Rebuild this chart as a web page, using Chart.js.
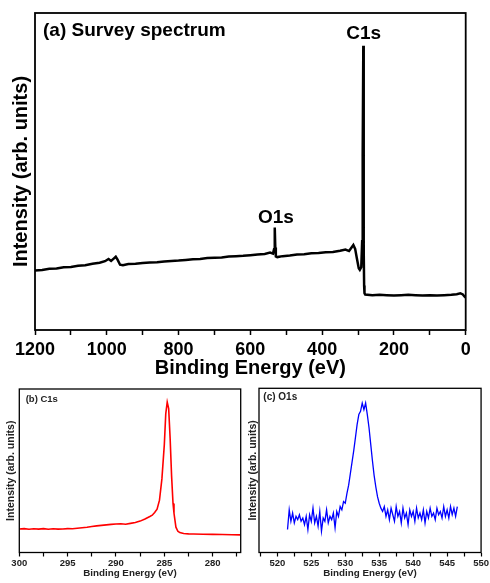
<!DOCTYPE html>
<html><head><meta charset="utf-8">
<script src="https://cdn.jsdelivr.net/npm/chart.js@4/dist/chart.umd.min.js"></script>
<style>
html,body{margin:0;padding:0;background:#fff;width:490px;height:583px;overflow:hidden;}
canvas{position:absolute;}
</style></head><body>
<canvas id="ca" width="490" height="383" style="left:0;top:0"></canvas>
<canvas id="cb" width="248" height="205" style="left:0;top:378px"></canvas>
<canvas id="cc" width="244" height="205" style="left:246px;top:378px"></canvas>
<script>
// ---- Panel (a): survey spectrum ----
const surveyEnergy = [1200,1180,1160,1140,1120,1100,1080,1060,1040,1020,1005,995,988,980,975,970,963,955,940,920,900,880,860,840,820,800,780,760,740,720,700,680,660,640,620,600,580,560,545,537,534,532.5,531.5,530.5,529,525,510,490,470,450,430,410,390,370,350,335,325,318,313,308,303,298,295,291,288.5,287,285.3,284.6,284.2,283.6,283,282,280,260,240,220,200,180,160,140,120,100,80,60,40,25,15,8,3,0];
const surveyIntensity = [18.8,18.9,19.3,19.4,19.8,19.9,20.3,20.4,20.9,21.2,21.7,22.4,21.8,22.6,23.1,22.2,20.6,20.4,20.8,20.9,21.1,21.3,21.4,21.6,21.8,21.9,22.1,22.3,22.4,22.7,22.8,22.9,23.2,23.3,23.4,23.6,23.8,24.0,24.4,24.1,25.5,30,32.3,26,23.2,23.0,23.3,23.5,23.8,23.9,24.2,24.3,24.5,24.6,25.0,25.4,24.9,26.0,26.8,25.6,22.5,19.5,19.0,19.8,28,55,89.7,75,46,25,14,11.6,11.2,11.0,11.1,11.0,10.9,11.0,11.1,11.0,10.9,11.0,10.9,11.0,11.1,11.3,11.6,11.2,10.5,10.2];
const surveyTickStep = 100;
const surveyLabelStep = 200;
const surveyPeakLabels = [{text:'C1s', x:284.2, y:93.3},{text:'O1s', x:529, y:35.3}];

// ---- Panel (b): C1s ----
const c1sEnergy = [300,299.5,299,298.5,298,297.5,297,296.5,296,295.5,295,294.5,294,293.5,293,292.5,292,291.5,291,290.5,290,289.5,289,288.5,288,287.5,287,286.75,286.5,286.25,286,285.75,285.5,285.25,285,284.85,284.7,284.55,284.4,284.25,284.1,284,283.8,283.6,283.4,283,282.5,282,281,280,279,278,277.15];
const c1sIntensity = [14.4,14.6,14.2,14.5,14.3,14.6,14.2,14.5,14.3,14.4,14.6,14.5,14.8,15.1,15.4,15.9,16.3,16.6,16.9,17.2,17.4,17.6,17.3,17.8,18.3,19.2,20.5,21.3,22.0,22.8,24.5,26.5,32,45,66,85,92,88,70,47,30,24,15.5,13,12.2,11.6,11.4,11.3,11.2,11.1,11.0,10.9,10.8];

// ---- Panel (c): O1s ----
const o1sEnergyStart = 521.5;
const o1sEnergyStep = 0.25;
const o1sIntensity = [14,26,19,24,18,22,20,23,19,21,17,22,14,23,19,27,18,22,16,25,13,21,19,26,18,22,20,24,15,25,22,28,26,31,30,36,41,48,55,62,70,78,84,86,91,87,91,84,76,66,56,47,40,34,30,27,25,28,22,26,20,27,23,19,28,22,25,18,27,21,24,17,26,22,25,19,27,21,24,20,26,18,25,21,27,22,24,20,27,23,25,21,28,22,26,21,28,23,27,22,28];

const FONT = "'Liberation Sans', Arial, sans-serif";
Chart.defaults.font.family = FONT;
Chart.defaults.animation = false;

const framePlugin = {
  id:'frame',
  afterDraw(chart, args, opts){
    const a = chart.chartArea, ctx = chart.ctx;
    ctx.save(); ctx.strokeStyle='#000'; ctx.lineWidth=opts.width||1;
    ctx.strokeRect(a.left, a.top, a.right-a.left, a.bottom-a.top); ctx.restore();
  }
};
const notesPlugin = {
  id:'notes',
  afterDraw(chart, args, opts){
    const ctx = chart.ctx;
    (opts.items||[]).forEach(it=>{
      let x, y;
      if (it.data) { x = chart.scales.x.getPixelForValue(it.x); y = chart.scales.y.getPixelForValue(it.y); }
      else { x = chart.chartArea.left + it.dx; y = chart.chartArea.top + it.dy; }
      ctx.save(); ctx.font = 'bold ' + it.size + 'px ' + FONT; ctx.fillStyle = it.color || '#000';
      ctx.textAlign = it.align || 'left'; ctx.textBaseline = 'middle'; ctx.fillText(it.text, x, y); ctx.restore();
    });
  }
};

function isMult(v, m){ return Math.abs(v/m - Math.round(v/m)) < 1e-6; }

function makeChart(id, cfg){
  const points = cfg.energy.map((e,i)=>({x:e, y:cfg.values[i]}));
  return new Chart(document.getElementById(id), {
    type:'line',
    data:{datasets:[{data:points, borderColor:cfg.color, borderWidth:cfg.lineWidth, pointRadius:0, tension:0, fill:false}]},
    plugins:[framePlugin, notesPlugin],
    options:{
      responsive:false, animation:false, events:[],
      layout:{padding:{top:cfg.padTop, right:cfg.padRight, left:0, bottom:0}},
      plugins:{legend:{display:false}, tooltip:{enabled:false},
        frame:{width:cfg.frameWidth}, notes:{items:cfg.notes}},
      scales:{
        x:{type:'linear', reverse:cfg.reverse, min:cfg.xmin, max:cfg.xmax,
          ticks:{stepSize:cfg.step, autoSkip:false, maxRotation:0, includeBounds:false, padding:cfg.tickPad,
            color:cfg.textColor, font:{size:cfg.tickSize, weight:'bold'},
            callback:v=> isMult(v, cfg.labelStep) ? String(Math.round(v)) : ''},
          grid:{display:true, drawOnChartArea:false, drawTicks:true, tickLength:cfg.tickLen, tickColor:'#000', tickWidth:cfg.tickWidth},
          border:{display:false},
          title:{display:true, text:'Binding Energy (eV)', color:cfg.textColor, font:{size:cfg.xTitleSize, weight:'bold'}, padding:{top:0, bottom:cfg.xTitlePad}},
          afterFit:s=>{ s.height = cfg.xHeight; }
        },
        y:{type:'linear', min:0, max:100,
          ticks:{display:false}, grid:{display:false}, border:{display:false},
          title:{display:true, text:'Intensity (arb. units)', color:cfg.textColor, font:{size:cfg.yTitleSize, weight:'bold'}, padding:{top:cfg.yTitlePad, bottom:0}},
          afterFit:s=>{ s.width = cfg.yWidth; }
        }
      }
    }
  });
}

makeChart('ca', {
  energy:surveyEnergy, values:surveyIntensity, color:'#000', lineWidth:2.5,
  reverse:true, xmin:0, xmax:1200, step:surveyTickStep, labelStep:surveyLabelStep,
  padTop:13, padRight:24.3, yWidth:35, xHeight:53,
  tickSize:18, tickPad:4, tickLen:5, tickWidth:1.5, textColor:'#000',
  xTitleSize:20, xTitlePad:3, yTitleSize:20, yTitlePad:9, frameWidth:1.8,
  notes:[{text:'(a) Survey spectrum', dx:8, dy:18, size:19},
    ...surveyPeakLabels.map(p=>({text:p.text, data:true, x:p.x, y:p.y, size:19, align:'center'}))]
});

makeChart('cb', {
  energy:c1sEnergy, values:c1sIntensity, color:'#ff0000', lineWidth:1.6,
  reverse:true, xmin:277.1, xmax:300, step:2.5, labelStep:5,
  padTop:11, padRight:7.3, yWidth:19.3, xHeight:30.5,
  tickSize:9.5, tickPad:1, tickLen:4, tickWidth:1.2, textColor:'#222',
  xTitleSize:9.8, xTitlePad:3.8, yTitleSize:10.5, yTitlePad:4.7, frameWidth:1.3,
  notes:[{text:'(b) C1s', dx:6.4, dy:10, size:9.5, color:'#222'}]
});

const o1sEnergy = o1sIntensity.map((_,i)=> o1sEnergyStart + i*o1sEnergyStep);
makeChart('cc', {
  energy:o1sEnergy, values:o1sIntensity, color:'#0000ff', lineWidth:1.3,
  reverse:false, xmin:517.3, xmax:550, step:2.5, labelStep:5,
  padTop:10.3, padRight:8.3, yWidth:13, xHeight:30.5,
  tickSize:9.5, tickPad:1, tickLen:4, tickWidth:1.2, textColor:'#222',
  xTitleSize:9.8, xTitlePad:3.8, yTitleSize:10.5, yTitlePad:0.7, frameWidth:1.3,
  notes:[{text:'(c) O1s', dx:4.3, dy:9.4, size:10, color:'#222'}]
});
</script>
</body></html>
